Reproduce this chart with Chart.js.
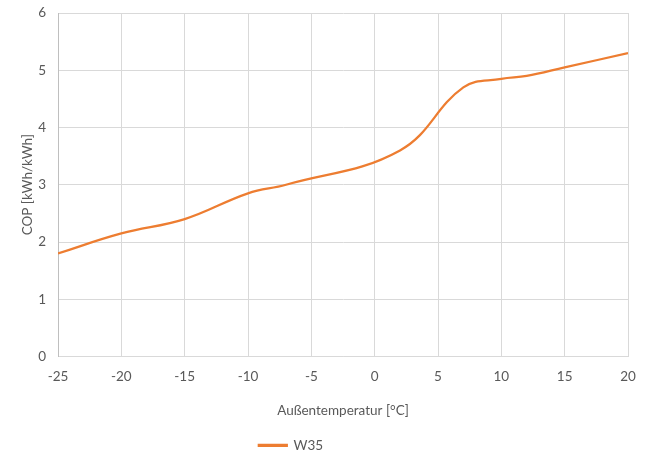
<!DOCTYPE html>
<html>
<head>
<meta charset="utf-8">
<script src="https://cdn.jsdelivr.net/npm/chart.js@4/dist/chart.umd.min.js"></script>
<style>
  html, body { margin: 0; padding: 0; background: #fff; }
  #wrap { width: 653px; height: 455px; }
</style>
</head>
<body>
<div id="wrap"><canvas id="copChart"></canvas></div>
<script>
'use strict';

// Außentemperatur [°C] und COP für W35
const temps = [-25, -20, -15, -10, -7, 2, 7, 10, 12, 15, 20];
const copW35 = [1.80, 2.15, 2.40, 2.85, 3.00, 3.60, 4.70, 4.85, 4.90, 5.05, 5.30];

const orange = '#ED7D31';
const textColor = '#595959';
const gridColor = '#D9D9D9';
const font = { family: 'Lato, "Open Sans", sans-serif', size: 13.5 };

// the legend in the original sits a bit left of centre
const legendShiftPlugin = {
  id: 'legendShift',
  afterLayout(chart) {
    if (chart.legend) chart.legend.left -= 66;
  }
};

const ctx = document.getElementById('copChart').getContext('2d');

const chart = new Chart(ctx, {
  type: 'line',
  data: {
    datasets: [
      {
        label: 'W35',
        data: temps.map((t, i) => ({ x: t, y: copW35[i] })),
        borderColor: orange,
        backgroundColor: orange,
        borderWidth: 2.25,
        pointRadius: 0,
        tension: 0.4
      }
    ]
  },
  options: {
    responsive: true,
    maintainAspectRatio: false,
    animation: false,
    layout: {
      padding: { top: 13, right: 25, left: 20, bottom: -7 }
    },
    plugins: {
      legend: {
        position: 'bottom',
        labels: {
          color: textColor,
          font: font,
          boxWidth: 28,
          boxHeight: 1,
          padding: 3
        }
      },
      tooltip: { enabled: false }
    },
    scales: {
      x: {
        type: 'linear',
        min: -25,
        max: 20,
        ticks: {
          stepSize: 5,
          color: textColor,
          font: font,
          padding: 12
        },
        grid: {
          color: gridColor,
          drawTicks: false
        },
        border: { color: gridColor },
        title: {
          display: true,
          text: 'Außentemperatur [°C]',
          color: textColor,
          font: font,
          padding: { top: 18, bottom: 17 }
        },
        afterFit: (scale) => {
          scale.height = 79;
          scale.paddingLeft = 0;
          scale.paddingRight = 0;
        }
      },
      y: {
        min: 0,
        max: 6,
        ticks: {
          stepSize: 1,
          color: textColor,
          font: font,
          padding: 12
        },
        grid: {
          color: gridColor,
          drawTicks: false
        },
        border: { color: '#BFBFBF' },
        title: {
          display: true,
          text: 'COP [kWh/kWh]',
          color: textColor,
          font: font,
          padding: { top: 0, bottom: 4 }
        },
        afterFit: (scale) => {
          scale.width = 38;
          scale.paddingTop = 0;
          scale.paddingBottom = 0;
        }
      }
    }
  },
  plugins: [legendShiftPlugin]
});
</script>
</body>
</html>
